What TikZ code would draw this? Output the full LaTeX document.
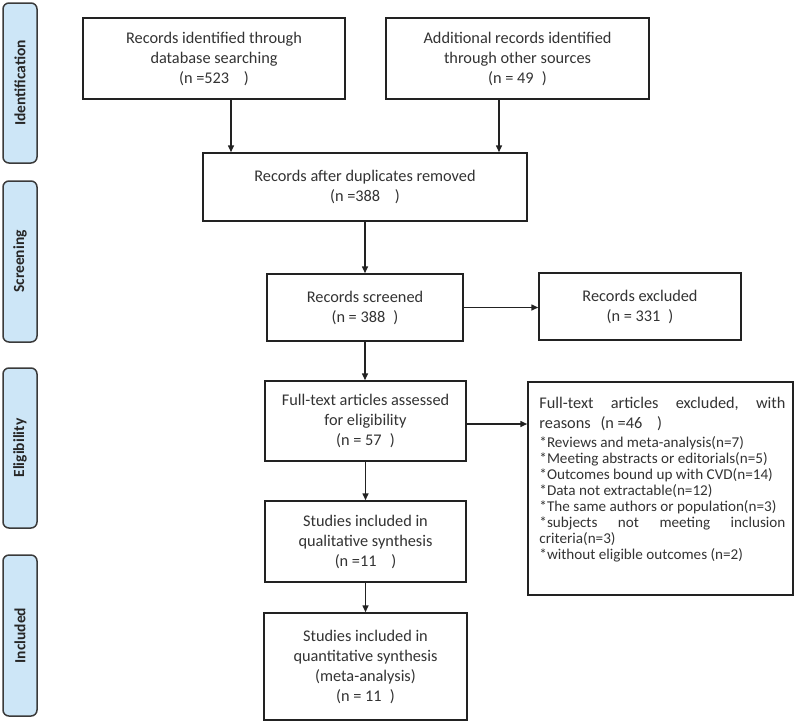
\documentclass[tikz,border=0pt]{standalone}
\usepackage{fontspec}
\usepackage{graphicx}
\setmainfont{Carlito}
\usetikzlibrary{arrows.meta}
\definecolor{stagefill}{HTML}{CDE6F7}
\definecolor{linec}{HTML}{222222}
\definecolor{stagec}{HTML}{3A3A3A}
\definecolor{txt}{HTML}{333333}
\newsavebox\lineprobe
\begin{document}
\sbox\lineprobe{\normalfont\fontsize{15}{16}\selectfont *The same authors or population(n=3)}%
\pgfmathsetmacro\sfac{237/\the\wd\lineprobe}%
\pgfmathsetlengthmacro\innerw{246/\sfac}%
\begin{tikzpicture}[x=1pt,y=-1pt,
  box/.style={draw=linec, line width=1.5pt, fill=white, text=txt, align=center,
    font=\fontsize{16.3}{20}\selectfont, inner sep=0pt},
  stage/.style={draw=stagec, line width=1.5pt, fill=stagefill, rounded corners=6pt,
    inner sep=0pt, text=black!85, font=\fontsize{15.5}{18}\selectfont\bfseries},
  arr/.style={-{Triangle[length=7pt,width=6pt]}, line width=1.5pt, draw=linec}]
\useasboundingbox (0,0) rectangle (800,724);

% stage bars
\node[stage, rotate=90, minimum width=160, minimum height=34] (s1) at (20,83) {Identification};
\node[stage, rotate=90, minimum width=161, minimum height=34] (s2) at (20,261.5) {Screening};
\node[stage, rotate=90, minimum width=160, minimum height=34] (s3) at (20,448) {Eligibility};
\node[stage, rotate=90, minimum width=161, minimum height=34] (s4) at (20,635.5) {Included};

% boxes
\node[box, minimum width=262, minimum height=81] (A) at (214,58.5)
  {Records identified through\\database searching\\(n =523\hspace{0.9em})};
\node[box, minimum width=263, minimum height=81] (B) at (517.5,58.5)
  {Additional records identified\\through other sources\\(n = 49\hspace{0.5em})};
\node[box, minimum width=324, minimum height=68] (C) at (365,187)
  {Records after duplicates removed\\(n =388\hspace{0.9em})};
\node[box, minimum width=196, minimum height=67] (D) at (365,307.5)
  {Records screened\\(n = 388\hspace{0.5em})};
\node[box, minimum width=202, minimum height=67] (E) at (640,306.5)
  {Records excluded\\(n = 331\hspace{0.5em})};
\node[box, minimum width=201, minimum height=80] (F) at (365.5,421)
  {Full-text articles assessed\\for eligibility\\(n = 57\hspace{0.5em})};
\node[box, minimum width=265, minimum height=213] (G) at (660.5,488.5) {};
\node[anchor=north west, inner sep=0pt, text=txt] (Gt) at ([xshift=12,yshift=-16]G.north west)
  {\parbox[t]{246pt}{%
    \fontsize{16.3}{20}\selectfont
    \hbox to \linewidth{Full-text\hfill articles\hfill excluded,\hfill with}
    reasons\hspace{0.6em}(n =46\hspace{0.9em})\par
    \vspace{-1.3pt}
    \scalebox{\sfac}[1]{\parbox[t]{\innerw}{\fontsize{15}{16}\selectfont
      *Reviews and meta-analysis(n=7)\par
      *Meeting abstracts or editorials(n=5)\par
      *Outcomes bound up with CVD(n=14)\par
      *Data not extractable(n=12)\par
      *The same authors or population(n=3)\par
      \hbox to \linewidth{*subjects\hfill not\hfill meeting\hfill inclusion}
      criteria(n=3)\par
      *without eligible outcomes (n=2)}}}};
\node[box, minimum width=201, minimum height=81] (H) at (365.5,541.5)
  {Studies included in\\qualitative synthesis\\(n =11\hspace{0.9em})};
\node[box, minimum width=203, minimum height=107] (I) at (365.5,666.5)
  {Studies included in\\quantitative synthesis\\(meta-analysis)\\(n = 11\hspace{0.5em})};

% connectors
\draw[arr] ([xshift=17]A.south) -- ([xshift=17]A.south |- C.north);
\draw[arr] ([xshift=-18.5]B.south) -- ([xshift=-18.5]B.south |- C.north);
\draw[arr] (C.south) -- (C.south |- D.north);
\draw[arr] (D.east) -- (D.east -| E.west);
\draw[arr] (D.south) -- (D.south |- F.north);
\draw[arr] ([yshift=-3]F.east) -- ([yshift=-3]F.east -| G.west);
\draw[arr] (F.south) -- (F.south |- H.north);
\draw[arr] (H.south) -- (H.south |- I.north);
\end{tikzpicture}
\end{document}
